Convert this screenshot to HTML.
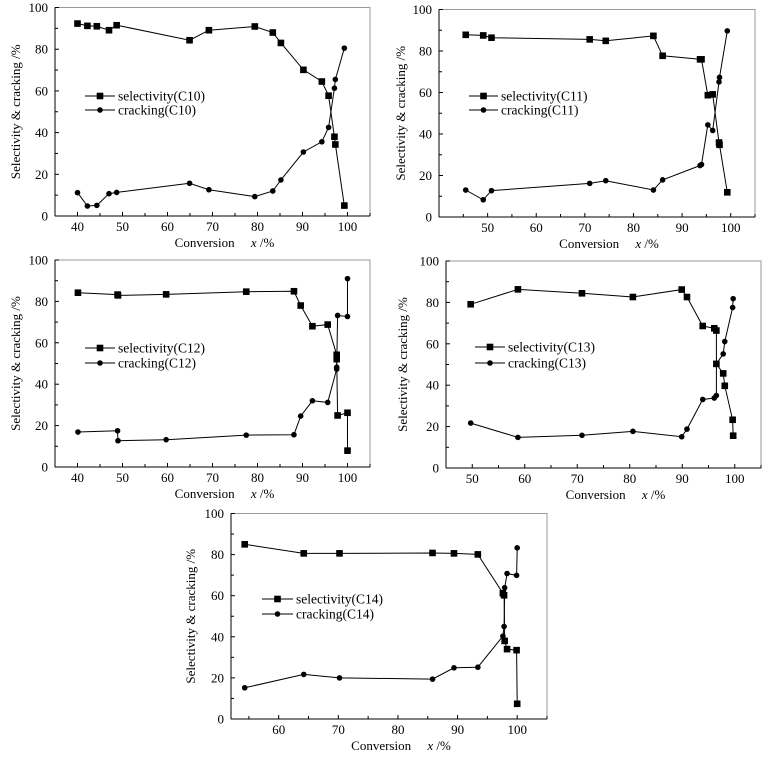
<!DOCTYPE html>
<html><head><meta charset="utf-8"><style>
html,body{margin:0;padding:0;background:#fff;}
svg, svg text{font-family:"Liberation Serif","DejaVu Serif","Times New Roman",serif;}
</style></head><body>
<svg id="chart" width="771" height="757" viewBox="0 0 771 757" xmlns="http://www.w3.org/2000/svg" font-family="Liberation Serif, DejaVu Serif, serif"></svg>
<script>
// ---- data ----
const c10SelX = [40,42.2,44.3,47,48.7,64.9,69.2,79.4,83.4,85.2,90.2,94.3,95.8,97.1,97.3,99.3];
const c10SelY = [92.3,91.2,91,89.1,91.5,84.3,89.1,90.9,88,83,70.1,64.5,57.7,38,34.3,5];
const c10CrkX = [40,42.2,44.3,47,48.7,64.9,69.2,79.4,83.4,85.2,90.2,94.3,95.8,97.1,97.3,99.3];
const c10CrkY = [11.2,4.8,5.1,10.7,11.3,15.7,12.6,9.3,12,17.3,30.7,35.6,42.5,61.3,65.5,80.5];

const c11SelX = [45.5,49.1,50.8,71,74.3,84.1,86,93.7,94,95.3,96.3,97.6,97.7,99.3];
const c11SelY = [87.8,87.5,86.4,85.6,84.9,87.3,77.7,76,76,58.7,59.1,35.9,34.8,11.9];
const c11CrkX = [45.5,49.1,50.8,71,74.3,84.1,86,93.7,94,95.3,96.3,97.6,97.7,99.3];
const c11CrkY = [13,8.3,12.7,16.2,17.5,13,17.9,24.8,25.3,44.4,41.7,65.1,67.3,89.7];

const c12SelX = [40.1,48.9,49,59.7,77.5,88.1,89.6,92.2,95.6,97.6,97.6,97.8,100,100];
const c12SelY = [84.2,83.3,82.9,83.4,84.7,84.9,78,68,68.8,54.2,52.1,24.9,26.2,7.9];
const c12CrkX = [40.1,48.9,49,59.7,77.5,88.1,89.6,92.2,95.6,97.6,97.6,97.8,100,100];
const c12CrkY = [16.9,17.5,12.7,13.2,15.4,15.6,24.6,32,31.2,47.3,48.2,73.2,72.7,91];

const c13SelX = [49.7,58.7,70.9,80.6,89.9,90.9,93.9,96.1,96.5,96.5,97.8,98.1,99.6,99.7];
const c13SelY = [79.1,86.3,84.4,82.6,86.2,82.6,68.6,67.5,66.4,50.3,45.7,39.7,23.3,15.6];
const c13CrkX = [49.7,58.7,70.9,80.6,89.9,90.9,93.9,96.1,96.5,96.5,97.8,98.1,99.6,99.7];
const c13CrkY = [21.7,14.8,15.8,17.7,15.1,18.8,33.1,33.8,35,50.3,55.1,61.1,77.5,81.8];

const c14SelX = [54.3,64.2,70.2,85.8,89.4,93.4,97.6,97.8,97.9,98.3,99.9,100];
const c14SelY = [85,80.6,80.6,80.8,80.6,80.1,61.2,60.2,38,34,33.5,7.4];
const c14CrkX = [54.3,64.2,70.2,85.8,89.4,93.4,97.6,97.8,97.9,98.3,99.9,100];
const c14CrkY = [15.2,21.7,20,19.4,24.9,25.2,40.3,45,63.9,70.8,69.9,83.3];

const yTicks = [0,20,40,60,80,100];
const xTicks10 = [40,50,60,70,80,90,100];
const xTicks11 = [50,60,70,80,90,100];
const xTicks12 = [40,50,60,70,80,90,100];
const xTicks13 = [50,60,70,80,90,100];
const xTicks14 = [60,70,80,90,100];
const labels = ["C10","C11","C12","C13","C14"];

// ---- layout (not data) ----
const panels = [
 {L:55,R:370,T:7.5,B:216,x0:35,x1:105,ticks:xTicks10,sx:c10SelX,sy:c10SelY,cx:c10CrkX,cy:c10CrkY,lg:[85,115,96,110],yt:20},
 {L:439,R:755,T:9.5,B:217,x0:40,x1:105,ticks:xTicks11,sx:c11SelX,sy:c11SelY,cx:c11CrkX,cy:c11CrkY,lg:[469,498,96,110],yt:405},
 {L:55,R:370,T:260,B:467,x0:35,x1:105,ticks:xTicks12,sx:c12SelX,sy:c12SelY,cx:c12CrkX,cy:c12CrkY,lg:[85,115,348,363],yt:20},
 {L:446,R:761,T:261,B:468,x0:45,x1:105,ticks:xTicks13,sx:c13SelX,sy:c13SelY,cx:c13CrkX,cy:c13CrkY,lg:[475,505,347,363],yt:407},
 {L:231,R:547,T:513.5,B:719,x0:52,x1:105,ticks:xTicks14,sx:c14SelX,sy:c14SelY,cx:c14CrkX,cy:c14CrkY,lg:[262,293,599,614],yt:195}
];
const NS="http://www.w3.org/2000/svg";
const FF="Liberation Serif, DejaVu Serif, serif";
const svg=document.getElementById('chart');
function mk(tag,attrs,parent){const e=document.createElementNS(NS,tag);for(const k in attrs)e.setAttribute(k,attrs[k]);if(tag==='text')e.setAttribute('font-family',FF);(parent||svg).appendChild(e);return e;}

panels.forEach((p,i)=>{
 const g=mk('g',{});
 
 
 const X=v=>p.L+(v-p.x0)/(p.x1-p.x0)*(p.R-p.L);
 const Y=v=>p.B-v/100*(p.B-p.T);
 const fr=mk('rect',{x:p.L,y:p.T,width:p.R-p.L,height:p.B-p.T,fill:'none',stroke:'#999','stroke-width':1},g);
 
 
 const ya=mk('line',{x1:p.L,y1:p.T,x2:p.L,y2:p.B,stroke:'#000','stroke-width':1},g);
 
 
 const xa=mk('line',{x1:p.L,y1:p.B,x2:p.R,y2:p.B,stroke:'#000','stroke-width':1},g);
 
 
 for(let v=0;v<=100;v+=10){
  mk('line',{x1:p.L,y1:Y(v),x2:p.L+(v%20===0?4:3),y2:Y(v),stroke:'#000','stroke-width':1},g);
 }
 yTicks.forEach(v=>{
  const t=mk('text',{x:p.L-7,y:Y(v)+4.5,'font-size':13,'text-anchor':'end',fill:'#000'},g);
  t.textContent=v;
  
  
 });
 for(let v=Math.ceil(p.x0/5)*5;v<=p.x1;v+=5){
  mk('line',{x1:X(v),y1:p.B,x2:X(v),y2:p.B-(v%10===0?4:3),stroke:'#000','stroke-width':1},g);
 }
 p.ticks.forEach(v=>{
  const t=mk('text',{x:X(v),y:p.B+15,'font-size':13,'text-anchor':'middle',fill:'#000'},g);
  t.textContent=v;
  
  
 });
 const xt=mk('text',{x:(p.L+p.R)/2+12,y:p.B+31,'font-size':13,'text-anchor':'middle',fill:'#000'},g);
 xt.innerHTML='Conversion\u00a0\u00a0\u00a0\u00a0 <tspan font-style="italic">x</tspan> /%';
 
 
 const ytt=mk('text',{x:p.yt,y:(p.T+p.B)/2,'font-size':13,'text-anchor':'middle',fill:'#000',transform:`rotate(-90 ${p.yt} ${(p.T+p.B)/2})`},g);
 ytt.textContent='Selectivity & cracking /%';
 
 
 const pts=(xs,ys)=>xs.map((x,k)=>X(x).toFixed(1)+','+Y(ys[k]).toFixed(1)).join(' ');
 const sl=mk('polyline',{points:pts(p.sx,p.sy),fill:'none',stroke:'#000','stroke-width':1},g);
 
 
 const cl=mk('polyline',{points:pts(p.cx,p.cy),fill:'none',stroke:'#000','stroke-width':1},g);
 
 
 p.sx.forEach((x,k)=>{
  const r=mk('rect',{x:X(x)-3.3,y:Y(p.sy[k])-3.3,width:6.6,height:6.6,fill:'#000'},g);
  
  
 });
 p.cx.forEach((x,k)=>{
  const c=mk('circle',{cx:X(x),cy:Y(p.cy[k]),r:2.8,fill:'#000'},g);
  
  
 });
 const [a,b,y1,y2]=p.lg;
 const lg=mk('g',{},g);
 
 
 mk('line',{x1:a,y1:y1,x2:b,y2:y1,stroke:'#000'},lg);
 mk('rect',{x:(a+b)/2-3.3,y:y1-3.3,width:6.6,height:6.6,fill:'#000'},lg);
 const t1=mk('text',{x:b+3,y:y1+4.5,'font-size':13.5,fill:'#000'},lg);
 t1.textContent='selectivity('+labels[i]+')';
 
 
 mk('line',{x1:a,y1:y2,x2:b,y2:y2,stroke:'#000'},lg);
 mk('circle',{cx:(a+b)/2,cy:y2,r:2.8,fill:'#000'},lg);
 const t2=mk('text',{x:b+3,y:y2+4.5,'font-size':13.5,fill:'#000'},lg);
 t2.textContent='cracking('+labels[i]+')';
 
 
});
</script>
</body></html>
